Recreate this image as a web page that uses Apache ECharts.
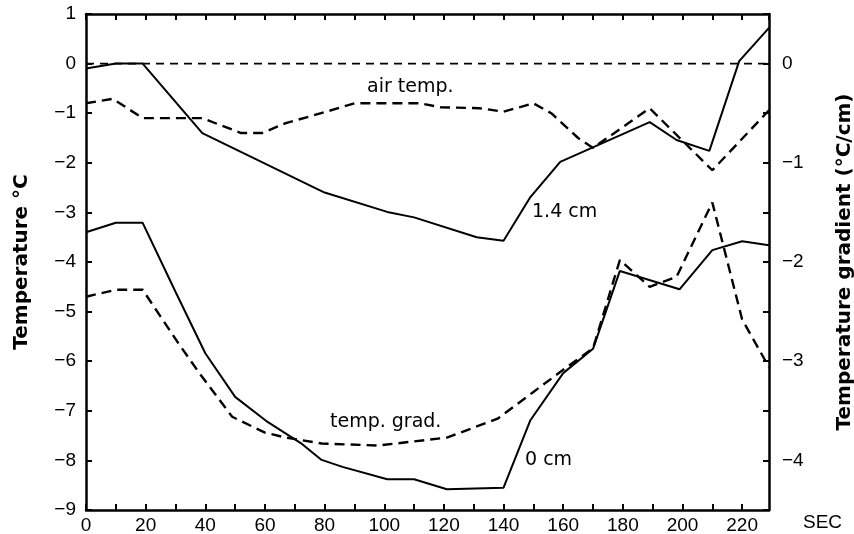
<!DOCTYPE html>
<html><head><meta charset="utf-8">
<script src="https://cdn.jsdelivr.net/npm/echarts@6/dist/echarts.min.js"></script>
<style>html,body{margin:0;padding:0;background:#fff}#c{width:854px;height:534px}</style>
</head><body><div id="c"></div>
<script>
// time (s) and values
var zeroT = [0, 229];
var zeroV = [0, 0];
var t14 = [0, 10, 19, 39, 80, 101, 110, 131, 140, 149, 159, 189, 198, 209, 219, 229];
var v14 = [-0.1, 0, 0, -1.4, -2.6, -2.99, -3.1, -3.5, -3.57, -2.69, -1.98, -1.18, -1.54, -1.76, 0.05, 0.72];
var tAir = [0, 9, 19, 39, 52, 59, 67, 80, 90, 112, 119, 132, 140, 150, 156, 165, 170, 189, 210, 229];
var vAir = [-0.8, -0.71, -1.1, -1.1, -1.4, -1.4, -1.2, -0.98, -0.8, -0.8, -0.88, -0.9, -0.97, -0.8, -1.0, -1.5, -1.7, -0.9, -2.15, -0.94];
var t0 = [0, 10, 19, 30, 40, 50, 61, 72, 79, 86, 101, 110, 121, 140, 149, 160, 170, 179, 199, 210, 220, 229];
var v0 = [-3.4, -3.21, -3.21, -4.6, -5.84, -6.72, -7.23, -7.65, -7.99, -8.13, -8.38, -8.38, -8.58, -8.55, -7.19, -6.24, -5.75, -4.18, -4.55, -3.76, -3.58, -3.66];
var tGrad = [0, 10, 19, 31, 38, 49, 60, 67, 79, 98, 121, 138, 150, 163, 170, 179, 189, 198, 210, 220, 229];
var vGrad = [-2.35, -2.28, -2.28, -2.82, -3.12, -3.56, -3.72, -3.77, -3.83, -3.85, -3.77, -3.58, -3.31, -3.02, -2.87, -1.98, -2.25, -2.15, -1.4, -2.58, -3.06];
var xTickLabels = ['0','20','40','60','80','100','120','140','160','180','200','220'];
var leftTickLabels = ['1','0','−1','−2','−3','−4','−5','−6','−7','−8','−9'];
var rightTickLabels = ['0','−1','−2','−3','−4'];

function pairs(t, v){ return t.map(function(x,i){ return [x, v[i]]; }); }
function fmtNum(v){ var s = String(Math.round(v*100)/100); return s.replace('-', '−'); }

var chart = echarts.init(document.getElementById('c'), null, {renderer:'canvas'});
var axisLineStyle = {color:'#000', width:2.5};
var tickFont = {color:'#000', fontFamily:'Liberation Sans', fontSize:19};
var ann = {fill:'#000', fontFamily:'DejaVu Sans', fontSize:19};
var tickStyle = {show:true, inside:true, length:6, lineStyle:{color:'#000', width:2}};

chart.setOption({
  animation:false,
  backgroundColor:'#fff',
  grid:{left:86, right:85, top:14, bottom:24, containLabel:false, outerBoundsMode:'none'},
  xAxis:[{
    type:'value', min:0, max:229, interval:10, position:'bottom',
    axisLine:{show:true, onZero:false, lineStyle:axisLineStyle}, splitLine:{show:false},
    axisTick:tickStyle,
    axisLabel:Object.assign({margin:6, showMaxLabel:false, formatter:function(v){
      var s = fmtNum(v); return xTickLabels.indexOf(s) >= 0 ? s : ''; }}, tickFont)
  },{
    type:'value', min:0, max:229, interval:10, position:'top',
    axisLine:{show:true, onZero:false, lineStyle:axisLineStyle}, splitLine:{show:false},
    axisTick:tickStyle,
    axisLabel:{show:false}
  }],
  yAxis:[{
    type:'value', min:-9, max:1, interval:1, position:'left',
    axisLine:{show:true, onZero:false, lineStyle:axisLineStyle}, splitLine:{show:false},
    axisTick:tickStyle,
    axisLabel:Object.assign({margin:10, formatter:function(v){
      var s = fmtNum(v); return leftTickLabels.indexOf(s) >= 0 ? s : ''; }}, tickFont),
    name:'Temperature °C', nameLocation:'middle', nameGap:54,
    nameTextStyle:{color:'#000', fontFamily:'DejaVu Sans', fontSize:20, fontWeight:'bold'}
  },{
    type:'value', min:-4.5, max:0.5, interval:0.5, position:'right',
    axisLine:{show:true, onZero:false, lineStyle:axisLineStyle}, splitLine:{show:false},
    axisTick:tickStyle,
    axisLabel:Object.assign({margin:13, formatter:function(v){
      var s = fmtNum(v); return rightTickLabels.indexOf(s) >= 0 ? s : ''; }}, tickFont),
    name:'Temperature gradient (°C/cm)', nameLocation:'middle', nameGap:66,
    nameTextStyle:{color:'#000', fontFamily:'DejaVu Sans', fontSize:20, fontWeight:'bold'}
  }],
  series:[
    {type:'line', name:'zero', data:pairs(zeroT, zeroV), yAxisIndex:0, showSymbol:false,
     lineStyle:{color:'#000', width:1.6, type:[8,6]}},
    {type:'line', name:'1.4 cm', data:pairs(t14, v14), yAxisIndex:0, showSymbol:false,
     lineStyle:{color:'#000', width:2}},
    {type:'line', name:'air temp.', data:pairs(tAir, vAir), yAxisIndex:0, showSymbol:false,
     lineStyle:{color:'#000', width:2.4, type:[10,6]}},
    {type:'line', name:'0 cm', data:pairs(t0, v0), yAxisIndex:0, showSymbol:false,
     lineStyle:{color:'#000', width:2}},
    {type:'line', name:'temp. grad.', data:pairs(tGrad, vGrad), yAxisIndex:1, showSymbol:false,
     lineStyle:{color:'#000', width:2.4, type:[10,6]}}
  ],
  graphic:[
    {type:'text', left:367, top:78, style:Object.assign({text:'air temp.'}, ann)},
    {type:'text', left:532, top:203, style:Object.assign({text:'1.4 cm'}, ann)},
    {type:'text', left:330, top:413, style:Object.assign({text:'temp. grad.'}, ann)},
    {type:'text', left:525, top:451, style:Object.assign({text:'0 cm'}, ann)},
    {type:'text', left:803, top:513, style:{text:'SEC', fill:'#000', fontFamily:'Liberation Sans', fontSize:19}}
  ]
});
</script></body></html>
